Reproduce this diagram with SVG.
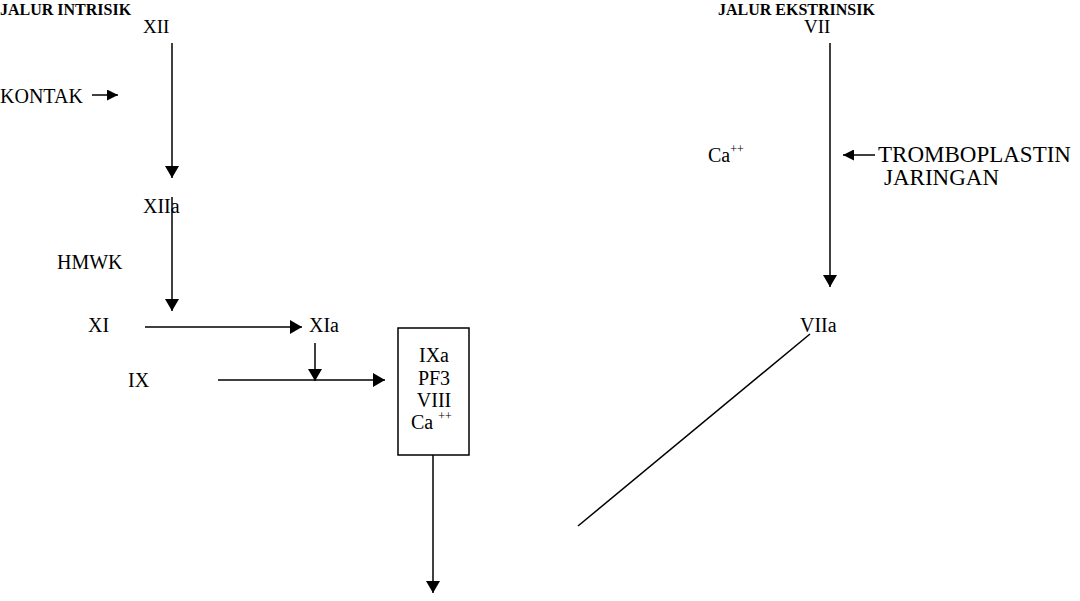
<svg xmlns="http://www.w3.org/2000/svg" width="1080" height="601" viewBox="0 0 1080 601">
<style>
text{font-family:"Liberation Serif","Times New Roman",serif;font-size:20px;fill:#000}
.b{font-weight:bold;font-size:16px}
.s{font-size:19px}
.big{font-size:23px}
.sup{font-size:12px}
line{stroke:#000;stroke-width:1.5}
</style>
<defs>
<marker id="ah" viewBox="0 0 10 10" refX="10" refY="5" markerWidth="12" markerHeight="11" markerUnits="userSpaceOnUse" orient="auto">
<path d="M0,0 L10,5 L0,10 z" fill="#000"/>
</marker>
<marker id="ahl" viewBox="0 0 12 14" refX="12" refY="7" markerWidth="13" markerHeight="14" markerUnits="userSpaceOnUse" orient="auto">
<path d="M0,0 L12,7 L0,14 z" fill="#000"/>
</marker>
</defs>
<rect width="1080" height="601" fill="#fff"/>
<g id="title-intrinsic"><text class="b" x="0" y="15">JALUR INTRISIK</text></g>
<g id="title-extrinsic"><text class="b" x="718" y="15">JALUR EKSTRINSIK</text></g>
<g id="n-XII"><text class="s" x="143" y="33">XII</text></g>
<g id="n-KONTAK"><text x="0" y="103" font-size="21">KONTAK</text></g>
<g id="n-XIIa"><text x="143" y="213">XIIa</text></g>
<g id="n-HMWK"><text x="57" y="269">HMWK</text></g>
<g id="n-XI"><text x="88" y="332">XI</text></g>
<g id="n-XIa"><text x="309" y="332">XIa</text></g>
<g id="n-IX"><text x="128" y="387">IX</text></g>
<g id="n-box">
<rect x="398" y="328" width="71" height="127" fill="none" stroke="#000" stroke-width="1.5"/>
<text x="434" y="362" text-anchor="middle">IXa</text>
<text x="434" y="385" text-anchor="middle">PF3</text>
<text x="434" y="407" text-anchor="middle">VIII</text>
<text x="411" y="429">Ca <tspan class="sup" dy="-9">++</tspan></text>
</g>
<g id="n-VII"><text class="s" x="804" y="33">VII</text></g>
<g id="n-Ca"><text x="708" y="162">Ca<tspan class="sup" dy="-9">++</tspan></text></g>
<g id="n-TROMBO"><text class="big" x="878" y="162">TROMBOPLASTIN</text><text class="big" x="884" y="185">JARINGAN</text></g>
<g id="n-VIIa"><text x="800" y="332">VIIa</text></g>
<g id="connectors">
<line x1="92" y1="95" x2="118" y2="95" marker-end="url(#ah)"/>
<line x1="172" y1="43" x2="172" y2="178" marker-end="url(#ahl)"/>
<line x1="172" y1="197" x2="172" y2="311" marker-end="url(#ahl)"/>
<line x1="145" y1="327" x2="302" y2="327" marker-end="url(#ahl)"/>
<line x1="315" y1="343" x2="315" y2="381" marker-end="url(#ahl)"/>
<line x1="218" y1="380" x2="385" y2="380" marker-end="url(#ahl)"/>
<line x1="433" y1="455" x2="433" y2="593" marker-end="url(#ahl)"/>
<line x1="830" y1="43" x2="830" y2="287" marker-end="url(#ahl)"/>
<line x1="875" y1="155" x2="843" y2="155" marker-end="url(#ah)"/>
<line x1="810" y1="334" x2="578" y2="526"/>
</g>
</svg>
